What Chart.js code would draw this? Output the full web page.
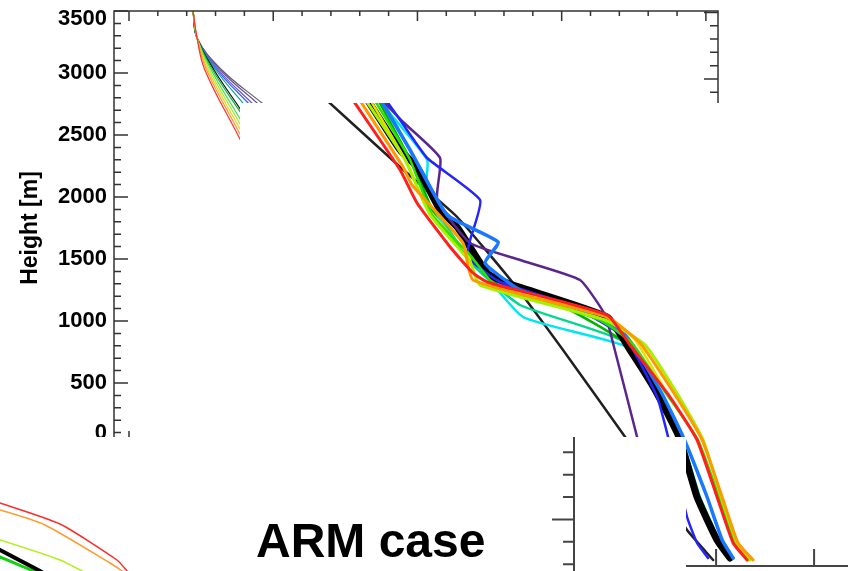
<!DOCTYPE html>
<html>
<head>
<meta charset="utf-8">
<title>ARM case</title>
<script src="https://cdn.jsdelivr.net/npm/chart.js@4.4.1/dist/chart.umd.min.js"></script>
<style>
  html, body { margin: 0; padding: 0; background: #fff; }
  #page { position: relative; width: 848px; height: 571px; overflow: hidden; }
  canvas { position: absolute; background: #fff; }
  #caseTitle { position: absolute; left: 256px; top: 517px; margin: 0;
    font: bold 48px/48px "Liberation Sans", Arial, sans-serif; color: #000; white-space: nowrap; }
</style>
</head>
<body>
<div id="page">
  <canvas id="profiles" width="848" height="571" style="left:0;top:0"></canvas>
  <canvas id="ensemble" width="608" height="468" style="left:240px;top:103px"></canvas>
  <canvas id="nearSurface" width="575" height="134" style="left:0;top:437px"></canvas>
  <canvas id="inset" width="138" height="134" style="left:548px;top:437px"></canvas>
  <div id="caseTitle">ARM case</div>
</div>
<script>
const FONT = '"Liberation Sans", Arial, sans-serif';

// upper panel: thin profiles, [theta K, height m]
const upperRed         = [[287.22,3500],[287.36,3282],[287.63,3024],[288.81,2484],[289.40,2214]];
const upperOrange      = [[287.22,3500],[287.36,3282],[287.69,3024],[288.81,2524],[289.37,2274]];
const upperGold        = [[287.22,3500],[287.36,3282],[287.74,3024],[288.81,2565],[289.35,2335]];
const upperYellowGreen = [[287.22,3500],[287.36,3282],[287.79,3024],[288.81,2605],[289.32,2395]];
const upperLime        = [[287.22,3500],[287.36,3282],[287.85,3024],[288.81,2645],[289.29,2455]];
const upperGreen       = [[287.22,3500],[287.36,3282],[287.90,3024],[288.81,2702],[289.27,2540]];
const upperBlack       = [[287.22,3500],[287.36,3282],[287.95,3024],[288.81,2726],[289.24,2577]];
const upperTeal        = [[287.22,3500],[287.36,3282],[288.01,3024],[288.95,2758],[289.42,2625]];
const upperBlue        = [[287.22,3500],[287.36,3282],[288.06,3024],[289.13,2758],[289.66,2625]];
const upperSlate       = [[287.22,3500],[287.36,3282],[288.11,3024],[289.26,2758],[289.84,2625]];
const upperPurple      = [[287.22,3500],[287.36,3282],[288.17,3024],[289.44,2758],[290.07,2625]];
const upperGray        = [[287.22,3500],[287.36,3282],[288.22,3024],[289.61,2758],[290.30,2625]];

const upperProfiles = [upperRed, upperOrange, upperGold, upperYellowGreen, upperLime, upperGreen,
  upperBlack, upperTeal, upperBlue, upperSlate, upperPurple, upperGray];
const upperColors = ['#ff3030', '#ff9a2e', '#e8d020', '#a8e830', '#40e040', '#10b040',
  '#101010', '#10a0a0', '#4060ff', '#6a5acd', '#7050a0', '#606060'];

// axis labels of the main frame
const heightLabels = [0, 500, 1000, 1500, 2000, 2500, 3000, 3500];
const thetaMajor = [285, 290, 295, 300, 305];

// ensemble panel, [theta K, height m]
const ensRed = [[276.33,3760],[278.88,3168],[279.74,2904],[281.43,2552],[282.60,2344],[283.32,2272],[289.44,2008],[290.61,1768],[292.65,1352],[294.03,1008],[295.05,552],[295.87,184],[296.58,48]];
const ensOrange = [[276.68,3760],[279.03,3192],[279.49,3048],[282.09,2584],[282.60,2288],[289.44,1992],[291.12,1784],[292.91,1368],[294.29,1008],[295.31,552],[296.12,184],[296.89,48]];
const ensYellowGreen = [[276.99,3760],[279.13,3248],[280.41,2808],[282.45,2432],[282.96,2248],[289.34,1968],[291.38,1768],[293.06,1368],[294.34,1008],[295.26,552],[296.07,184],[296.73,48]];
const ensGold = [[277.24,3760],[279.29,3208],[280.15,2888],[282.35,2488],[282.86,2272],[289.08,2024],[290.87,1808],[292.55,1368],[294.03,1008],[295.10,552],[295.97,184],[296.68,48]];
const ensSky = [[277.76,3760],[279.39,3328],[281.28,2808],[283.88,2592],[283.21,2424],[285.00,2208],[288.06,2048],[290.36,1848],[292.14,1408],[293.32,1032],[294.54,552],[295.31,208],[295.87,64]];
const ensBlue = [[278.01,3760],[278.88,3568],[280.26,3264],[282.96,2928],[282.45,2608],[282.30,2472],[283.98,2272],[287.55,2088],[290.36,1824],[291.99,1352],[292.55,1032],[293.52,392],[294.03,184],[294.59,64]];
const ensPurple = [[277.76,3760],[279.03,3552],[280.92,3264],[280.77,2928],[282.45,2584],[285.00,2448],[288.06,2288],[289.34,2008],[289.74,1784],[290.97,1032],[292.55,48]];
const ensMean = [[277.09,3760],[278.88,3328],[279.74,3192],[280.92,2848],[281.79,2712],[283.32,2344],[284.34,2264],[289.44,1992],[290.61,1728],[291.89,1408],[293.11,1032],[294.03,552],[295.05,208],[295.71,64]];
const ensLime = [[277.45,3760],[279.39,3248],[280.51,2808],[282.45,2488],[283.72,2248],[289.08,1968],[290.71,1784],[292.40,1392],[294.08,1008],[295.15,552],[295.97,184],[296.68,48]];
const ensGreen = [[277.65,3760],[279.54,3208],[280.77,2768],[282.70,2432],[284.23,2208],[287.04,2088],[290.36,1784],[291.89,1408],[293.16,1032],[294.13,552],[295.10,208],[295.71,64]];
const ensTeal = [[277.86,3760],[279.64,3248],[280.92,2808],[282.60,2408],[285.00,2088],[290.36,1792],[291.89,1392],[293.16,1032],[294.13,552],[295.10,208],[295.71,64]];
const ensCyan = [[277.60,3760],[280.26,3248],[280.15,2952],[281.43,2664],[282.60,2448],[285.15,1992],[290.46,1752],[292.04,1368],[293.21,1032],[294.18,552],[295.15,208],[295.77,64]];
const ensControl = [[274.90,3760],[278.88,3192],[281.79,2792],[284.64,2264],[287.19,1728],[290.36,1032],[293.52,288],[294.85,48]];

const ensembleProfiles = [ensRed, ensOrange, ensYellowGreen, ensLime, ensGold, ensSky, ensBlue, ensPurple,
  ensMean, ensGreen, ensTeal, ensCyan, ensControl];
const ensembleColors = ['#ff1f1f', '#ff9900', '#a6f000', '#2ee000', '#e6e000', '#1a78ff', '#2424ff', '#5a268e',
  '#000000', '#00b400', '#00d890', '#00e6f0', '#202020'];
const ensembleWidths = [3, 3, 3, 2.5, 2.5, 3.5, 2.5, 2.5, 7, 2.5, 2.5, 2.5, 2.5];
const ensembleTicks = [275, 280, 285, 290, 295, 300];

// near-surface fragment
const sfcRed = [[-1,710],[0,680],[6,470],[11.7,110],[12.7,0],[13.2,-70]];
const sfcOrange = [[-1,620],[0,610],[4.5,460],[11,80],[12.2,0],[12.7,-50]];
const sfcYellowGreen = [[-1,330],[0,310],[6,110],[8.2,0],[9,-50]];
const sfcMean = [[-1,260],[0,210],[4,0],[4.8,-50]];
const sfcGreen = [[-1,180],[0,140],[3.3,0],[4,-40]];
const sfcProfiles = [sfcRed, sfcOrange, sfcYellowGreen, sfcMean, sfcGreen];
const sfcColors = ['#ff2a2a', '#ff9a30', '#b0f020', '#000000', '#10d010'];
const sfcWidths = [1.5, 1.5, 1.5, 4, 3];

// inset axis ticks
const insetTicks = [300, 400, 500, 600, 700, 800];

// frame with inward ticks on all four sides
const profileFrame = {
  id: 'profileFrame',
  afterDraw(chart) {
    const { ctx, chartArea: a, scales } = chart;
    ctx.save();
    ctx.strokeStyle = '#333';
    ctx.lineWidth = 1.5;
    ctx.strokeRect(a.left, a.top, a.right - a.left, a.bottom - a.top);
    ctx.beginPath();
    for (let h = 0; h <= 3500; h += 100) {
      const y = scales.y.getPixelForValue(h);
      const len = h % 500 === 0 ? 14 : 7;
      ctx.moveTo(a.left, y); ctx.lineTo(a.left + len, y);
    }
    for (let h = 300; h <= 3500; h += 100) {
      const y = scales.y2.getPixelForValue(h);
      const len = h % 500 === 0 ? 14 : 8;
      ctx.moveTo(a.right, y); ctx.lineTo(a.right - len, y);
    }
    for (let t = 285; t <= 305; t++) {
      const x = scales.x.getPixelForValue(t);
      const major = thetaMajor.includes(t);
      ctx.moveTo(x, a.top); ctx.lineTo(x, a.top + (major ? 10 : 5));
      ctx.moveTo(x, a.bottom); ctx.lineTo(x, a.bottom - (major ? 14 : 7));
    }
    ctx.stroke();
    ctx.restore();
  }
};

const ensembleAxis = {
  id: 'ensembleAxis',
  afterDraw(chart) {
    const { ctx, chartArea: a, scales: { x } } = chart;
    ctx.save();
    ctx.strokeStyle = '#444';
    ctx.lineWidth = 2;
    ctx.beginPath();
    ctx.moveTo(a.left, a.bottom); ctx.lineTo(a.right, a.bottom);
    ensembleTicks.forEach(v => {
      const px = x.getPixelForValue(v);
      ctx.moveTo(px, a.bottom); ctx.lineTo(px, a.bottom - 17);
    });
    ctx.stroke();
    ctx.restore();
  }
};

const insetAxis = {
  id: 'insetAxis',
  afterDraw(chart) {
    const { ctx, chartArea: a, scales: { y } } = chart;
    ctx.save();
    ctx.strokeStyle = '#444';
    ctx.lineWidth = 2;
    ctx.beginPath();
    ctx.moveTo(a.left, a.top); ctx.lineTo(a.left, a.bottom);
    insetTicks.forEach(v => {
      const py = y.getPixelForValue(v);
      ctx.moveTo(a.left, py); ctx.lineTo(a.left - (v === 500 ? 22 : 11), py);
    });
    ctx.stroke();
    ctx.restore();
  }
};

const quiet = { legend: { display: false }, tooltip: { enabled: false } };

new Chart(document.getElementById('profiles'), {
  type: 'scatter',
  data: {
    datasets: upperProfiles.map((d, i) => ({
      data: d, showLine: true, borderColor: upperColors[i], borderWidth: 1.2,
      pointRadius: 0, tension: 0.4
    }))
  },
  options: {
    responsive: false,
    animation: false,
    layout: { padding: { top: 11, right: 130, bottom: 126, left: 0 } },
    plugins: quiet,
    scales: {
      x: { type: 'linear', display: false, min: 284.48, max: 305.42 },
      y: {
        type: 'linear', position: 'left', min: 0, max: 3500,
        afterBuildTicks: s => { s.ticks = heightLabels.map(v => ({ value: v })); },
        afterFit: s => { s.width = 114; s.paddingTop = 0; s.paddingBottom = 0; },
        grid: { display: false, drawTicks: false },
        border: { display: false },
        ticks: {
          padding: 7,
          color: '#000',
          // end labels sit inside the frame
          callback: v => v === 0 ? ['0', ''] : v === 3500 ? ['', '3500'] : String(v),
          font: c => ({ family: FONT, size: 22, weight: 'bold',
            lineHeight: c.tick && c.tick.value === 3500 ? 0.7 : 1.1 })
        },
        title: {
          display: true, text: 'Height [m]', color: '#000',
          font: { family: FONT, size: 23, weight: 'bold' },
          padding: { top: 17, bottom: 0 }
        }
      },
      y2: { type: 'linear', position: 'right', display: false, min: 248, max: 3511 }
    }
  },
  plugins: [profileFrame]
});

new Chart(document.getElementById('ensemble'), {
  type: 'scatter',
  data: {
    datasets: ensembleProfiles.map((d, i) => ({
      data: d, showLine: true, borderColor: ensembleColors[i], borderWidth: ensembleWidths[i],
      pointRadius: 0, tension: 0.15, borderJoinStyle: 'round', borderCapStyle: 'round'
    }))
  },
  options: {
    responsive: false,
    animation: false,
    layout: { padding: { top: 0, right: 0, bottom: 5, left: 0 } },
    plugins: quiet,
    scales: {
      x: { type: 'linear', display: false, min: 270.71, max: 301.73 },
      y: { type: 'linear', display: false, min: 0, max: 3704 }
    }
  },
  plugins: [ensembleAxis]
});

new Chart(document.getElementById('nearSurface'), {
  type: 'scatter',
  data: {
    datasets: sfcProfiles.map((d, i) => ({
      data: d, showLine: true, borderColor: sfcColors[i], borderWidth: sfcWidths[i],
      pointRadius: 0, tension: 0.2
    }))
  },
  options: {
    responsive: false,
    animation: false,
    layout: { padding: 0 },
    plugins: quiet,
    scales: {
      x: { type: 'linear', display: false, min: 0, max: 57.5 },
      y: { type: 'linear', display: false, min: 0, max: 1340 }
    }
  }
});

new Chart(document.getElementById('inset'), {
  type: 'scatter',
  data: { datasets: [] },
  options: {
    responsive: false,
    animation: false,
    layout: { padding: { top: 0, right: 0, bottom: 0, left: 26 } },
    plugins: quiet,
    scales: {
      x: { type: 'linear', display: false, min: 0, max: 1 },
      y: { type: 'linear', display: false, min: 270, max: 868 }
    }
  },
  plugins: [insetAxis]
});
</script>
</body>
</html>
